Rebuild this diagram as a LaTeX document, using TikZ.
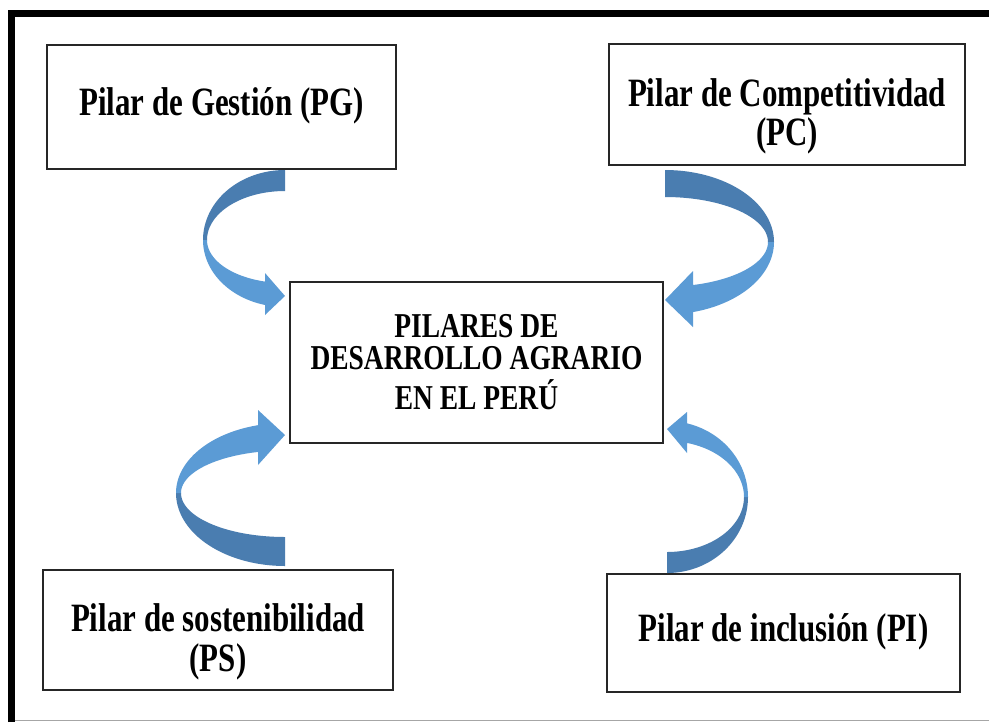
\documentclass[tikz,border=0pt]{standalone}
\usepackage{fontspec}
\setmainfont{Liberation Serif}
\usepackage{graphicx}
\definecolor{arrdark}{HTML}{4A7DB0}
\definecolor{arrlight}{HTML}{5B9BD5}
\tikzset{
  pillar/.style={draw=black!85, line width=0.9pt, inner sep=0pt, font=\bfseries},
  frameline/.style={line width=5pt, black},
}
\newcommand\outertext[2][0pt]{\fontsize{23.2}{21.9}\selectfont\raisebox{-#1}[\height][\depth]{\scalebox{1}[1.3]{\begin{tabular}{@{}c@{}}#2\end{tabular}}}}
\newcommand\centertext[2][0pt]{\fontsize{20.6}{18.4}\selectfont\raisebox{-#1}[\height][\depth]{\scalebox{1}[1.27]{\begin{tabular}{@{}c@{}}#2\end{tabular}}}}
\newcommand\arrparams[9]{\def\qR{#1}\def\qr{#2}\def\qRt{#3}\def\qrt{#4}\def\qRb{#5}\def\qrb{#6}\def\qhb{#7}\def\qhc{#8}\def\qhh{#9}}
\newcommand\drawcurvedarrow[2]{%
  \begin{scope}[#1]
    \pgfmathsetmacro\qto{acos(\qhb/\qR)}%
    \pgfmathsetmacro\qti{acos(\qhb/\qr)}%
    \fill[arrdark] plot[domain=-90:-180,samples=50,variable=\t] ({\qR*cos(\t)},{\qRt*sin(\t)})
      -- plot[domain=-180:-90,samples=50,variable=\t] ({\qr*cos(\t)},{\qrt*sin(\t)}) -- cycle;
    \fill[arrlight] plot[domain=180:\qto,samples=50,variable=\t] ({\qR*cos(\t)},{\qRb*sin(\t)})
      -- (\qhb,{\qhc+\qhh}) -- (0,#2) -- (\qhb,{\qhc-\qhh})
      -- plot[domain=\qti:180,samples=50,variable=\t] ({\qr*cos(\t)},{\qrb*sin(\t)}) -- cycle;
  \end{scope}}
\begin{document}
\begin{tikzpicture}[x=0.75pt,y=-0.75pt]
\useasboundingbox (0,0) rectangle (989,722);
\fill[white] (0,0) rectangle (989,722);
% frame
\draw[frameline] (11.5,722) -- (11.5,13.3) -- (989,13.3);
\draw[gray!70, line width=0.8pt] (15,720.5) -- (989,720.5);
% boxes
\node[pillar, minimum width=261.75pt, minimum height=93pt] (pg) at (221.5,107) {\outertext{Pilar de Gestión (PG)}};
\node[pillar, minimum width=267pt, minimum height=90.75pt] (pc) at (787,104.5) {\outertext[10pt]{Pilar de Competitividad\\(PC)}};
\node[pillar, minimum width=279.75pt, minimum height=120.75pt] (mid) at (476.5,362.5) {\centertext[3pt]{PILARES DE\\DESARROLLO AGRARIO\\EN EL PERÚ}};
\node[pillar, minimum width=262.5pt, minimum height=90pt] (ps) at (218,630) {\outertext[10pt]{Pilar de sostenibilidad\\(PS)}};
\node[pillar, minimum width=264.75pt, minimum height=88.5pt] (pi) at (783.5,633) {\outertext{Pilar de inclusión (PI)}};
% curved arrows
\arrparams{82}{78}{70}{49}{67}{43}{-20}{54}{21}
\drawcurvedarrow{shift={(285,240)}}{56}
\arrparams{109}{103}{72}{45}{72.5}{44.7}{-28}{57}{28}
\drawcurvedarrow{shift={(665,242)},xscale=-1}{58}
\arrparams{109}{104}{73}{44}{70}{42.5}{-27}{55.5}{27.5}
\drawcurvedarrow{shift={(285,493)},yscale=-1}{58}
\arrparams{81}{77}{76}{55}{76}{56}{-20}{64.5}{20.5}
\drawcurvedarrow{shift={(667,497)},xscale=-1,yscale=-1}{68}
\end{tikzpicture}
\end{document}
